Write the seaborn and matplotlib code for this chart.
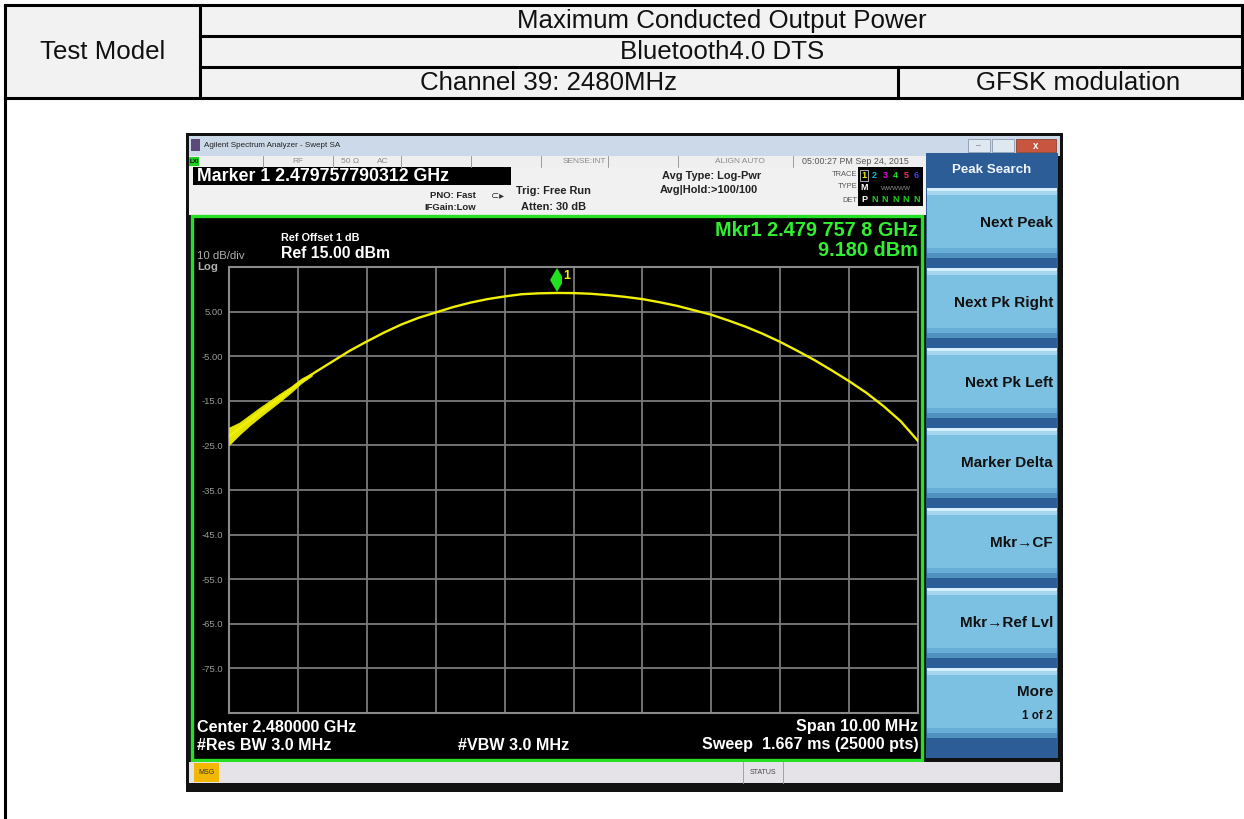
import numpy as np
import pandas as pd
import matplotlib
matplotlib.use("Agg")
import matplotlib.pyplot as plt
import seaborn as sns
from matplotlib.patches import Rectangle
from matplotlib.lines import Line2D
import matplotlib.transforms as mtransforms

# ---------------- data ----------------
center_ghz = 2.480000
span_mhz = 10.0
ref_level = 15.0
db_per_div = 10.0

freq_offset_mhz = [-5.0, -4.75, -4.5, -4.25, -4.0, -3.75, -3.5, -3.25, -3.0, -2.75,
                   -2.5, -2.25, -2.0, -1.75, -1.5, -1.25, -1.0, -0.75, -0.5, -0.24,
                   0.0, 0.25, 0.5, 0.75, 1.0, 1.25, 1.5, 1.75, 2.0, 2.25,
                   2.5, 2.75, 3.0, 3.25, 3.5, 3.75, 4.0, 4.25, 4.5, 4.75, 5.0]
level_dbm = [-23.0, -20.0, -17.0, -14.3, -11.2, -8.6, -6.2, -3.8, -1.7, 0.3,
             2.1, 3.6, 4.8, 6.0, 7.0, 7.8, 8.4, 8.9, 9.1, 9.18,
             9.15, 9.0, 8.7, 8.3, 7.8, 7.1, 6.3, 5.3, 4.3, 3.0,
             1.6, 0.0, -1.8, -3.8, -5.9, -8.2, -10.6, -13.2, -16.2, -19.6, -24.0]

# noisy envelope of the trace near the left edge
noise_offset_mhz = [-5.0, -4.85, -4.7, -4.55, -4.4, -4.25, -4.1, -3.95, -3.8]
noise_hi_dbm = [-21.0, -19.9, -18.2, -16.5, -14.9, -13.3, -11.8, -10.0, -8.8]
noise_lo_dbm = [-24.9, -22.6, -20.5, -18.6, -16.8, -15.0, -13.1, -11.0, -9.4]

marker_freq_ghz = 2.4797578
marker_level_dbm = 9.180

ytick_labels = ["5.00", "-5.00", "-15.0", "-25.0", "-35.0", "-45.0", "-55.0", "-65.0", "-75.0"]

header_title = "Maximum Conducted Output Power"
header_mode = "Bluetooth4.0 DTS"
header_channel = "Channel 39: 2480MHz"
header_mod = "GFSK modulation"
header_left = "Test Model"

softkeys = ["Next Peak", "Next Pk Right", "Next Pk Left", "Marker Delta",
            "Mkr\u2192CF", "Mkr\u2192Ref Lvl", "More"]

# ---------------- setup ----------------
W, H = 1244, 819
sns.set_style("white")
plt.rcParams['font.family'] = ['Liberation Sans', 'DejaVu Sans']

fig = plt.figure(figsize=(W / 100, H / 100), dpi=100)
fig.patch.set_facecolor('white')


def fx(x):
    return x / W


def fy(y):
    return 1 - y / H


def rect(x0, y0, x1, y1, **kw):
    kw.setdefault('lw', 0)
    r = Rectangle((fx(x0), fy(y1)), (x1 - x0) / W, (y1 - y0) / H,
                  transform=fig.transFigure, **kw)
    fig.add_artist(r)
    return r


def line(x0, y0, x1, y1, **kw):
    fig.add_artist(Line2D([fx(x0), fx(x1)], [fy(y0), fy(y1)],
                          transform=fig.transFigure, **kw))


def text(x, y, s, **kw):
    kw.setdefault('va', 'center')
    return fig.text(fx(x), fy(y), s, **kw)


# ---------------- table ----------------
rect(5, 5, 1242, 98, fc='#f2f2f2')
tl = dict(color='black', lw=2.2, solid_capstyle='projecting')
line(5, 5, 1242, 5, **tl)
line(200, 36, 1242, 36, **tl)
line(200, 67, 1242, 67, **tl)
line(5, 98, 1242, 98, **tl)
line(5, 5, 5, 819, **tl)
line(200, 5, 200, 98, **tl)
line(898, 67, 898, 98, **tl)
line(1242, 5, 1242, 98, **tl)
tkw = dict(fontsize=18.6, color='#111111', ha='center')
text(103, 52, header_left, **tkw)
text(722, 21, header_title, **tkw)
text(722, 52, header_mode, **tkw)
text(549, 83, header_channel, **tkw)
text(1078, 83, header_mod, **tkw)

# ---------------- analyzer window ----------------
rect(186, 133, 1063, 792, fc='#121212')
rect(189, 136, 1060, 156, fc='#cbd9e8')
rect(191, 139, 200, 151, fc='#5a4a7a')
text(204, 145.5, "Agilent Spectrum Analyzer - Swept SA", fontsize=5.8, color='#222222')
rect(968, 139, 990, 152, fc='#dfe7f0', ec='#8a9ab0', lw=0.6)
rect(992, 139, 1014, 152, fc='#dfe7f0', ec='#8a9ab0', lw=0.6)
rect(1016, 139, 1056, 152, fc='#c8553f', ec='#8a4030', lw=0.6)
text(976, 146, "\u2013", fontsize=6, color='#555555')
text(1036, 146, "x", fontsize=7, color='white', ha='center', weight='bold')

# status row
rect(189, 156, 926, 167, fc='#efefef')
for xs in [263, 333, 401, 471, 541, 608, 678, 793]:
    line(xs, 156, xs, 167, color='#9a9a9a', lw=0.7)
rect(189, 157, 199, 166, fc='#20d020')
text(194, 161.5, "LXI", fontsize=4.5, color='black', ha='center', weight='bold')
skw = dict(fontsize=6.0, color='#8a8a8a')
text(298, 161.5, "RF", ha='center', **skw)
text(350, 161.5, "50 \u03a9", ha='center', **skw)
text(383, 161.5, "AC", ha='center', **skw)
text(584, 161.5, "SENSE:INT", ha='center', **skw)
text(740, 161.5, "ALIGN AUTO", ha='center', **skw)
text(855, 161.5, "05:00:27 PM Sep 24, 2015", ha='center', fontsize=6.4, color='#555555')

# info area
rect(189, 167, 926, 215, fc='#f1f1f1')
rect(193, 167, 511, 185, fc='black')
text(197, 176.5, "Marker 1 2.479757790312 GHz", fontsize=12.8, color='white', weight='bold')
ikw = dict(fontsize=6.8, color='#222222', weight='bold')
text(476, 195, "PNO: Fast", ha='right', **ikw)
text(476, 207, "IFGain:Low", ha='right', **ikw)
text(498, 196, "\u2282\u25b8", fontsize=7, color='#333333', ha='center')
jkw = dict(fontsize=7.9, color='#222222', weight='bold')
text(516, 191, "Trig: Free Run", **jkw)
text(521, 207, "Atten: 30 dB", **jkw)
text(712, 176, "Avg Type: Log-Pwr", ha='center', **jkw)
text(709, 190, "Avg|Hold:>100/100", ha='center', **jkw)
text(857, 175, "TRACE", ha='right', fontsize=5.4, color='#555555')
text(857, 187, "TYPE", ha='right', fontsize=5.4, color='#555555')
text(857, 200, "DET", ha='right', fontsize=5.4, color='#555555')
rect(858, 167, 923, 206, fc='black')
rect(860, 170, 868, 181, fc='none', ec='#c8c8c8', lw=0.6)
trace_cols = ['#f0f000', '#00c8c8', '#e000e0', '#20e020', '#ff3070', '#4040ff']
for i, c in enumerate(trace_cols):
    text(864 + i * 10.5, 175.5, str(i + 1), fontsize=6.5, color=c, ha='center', weight='bold')
text(864, 188, "M", fontsize=6.5, color='white', ha='center', weight='bold')
text(896, 188, "WWWWW", fontsize=4.6, color='#909090', ha='center')
text(864, 200, "P", fontsize=6.5, color='white', ha='center', weight='bold')
for i in range(5):
    text(874.5 + i * 10.5, 200, "N", fontsize=6.5, color='#20d020', ha='center', weight='bold')

# plot panel with green frame
rect(192, 216, 922, 760, fc='black', ec='#25e025', lw=2.4)
text(281, 238, "Ref Offset 1 dB", fontsize=7.8, color='white', weight='bold')
text(281, 254, "Ref 15.00 dBm", fontsize=11.4, color='white', weight='bold')
text(197, 256, "10 dB/div", fontsize=8.2, color='#b0b0b0')
text(197, 267, "Log", fontsize=8.2, color='#b0b0b0', weight='bold')
text(918, 231, "Mkr1 2.479 757 8 GHz", fontsize=14.3, color='#30f030', weight='bold', ha='right')
text(918, 250, "9.180 dBm", fontsize=14.3, color='#30f030', weight='bold', ha='right')
bkw = dict(fontsize=11.6, color='white', weight='bold')
text(197, 727, "Center 2.480000 GHz", **bkw)
text(197, 745, "#Res BW 3.0 MHz", **bkw)
text(458, 745, "#VBW 3.0 MHz", **bkw)
text(918, 727, "Span 10.00 MHz", ha='right', **bkw)
text(919, 745, "Sweep  1.667 ms (25000 pts)", ha='right', **bkw)

# msg bar
rect(189, 762, 1060, 783, fc='#e6e3e8')
rect(194, 763, 219, 782, fc='#f2b800')
text(206.5, 772.5, "MSG", fontsize=5, color='#333333', ha='center')
line(743, 762, 743, 783, color='#a0a0a0', lw=0.7)
line(783, 762, 783, 783, color='#a0a0a0', lw=0.7)
text(763, 772.5, "STATUS", fontsize=5, color='#444444', ha='center')

# softkey panel
rect(926, 153, 1058, 758, fc='#2d5d96')
text(992, 170, "Peak Search", fontsize=9.6, color='#f0f4ff', weight='bold', ha='center')
for i, lab in enumerate(softkeys):
    top = 188 + 80 * i
    bot = top + 70
    rect(927, top, 1057, bot, fc='#7cc0e2')
    rect(927, top, 1057, top + 3, fc='#d6eef9')
    rect(927, top + 3, 1057, top + 7, fc='#a6d6ee')
    rect(927, bot - 10, 1057, bot - 5, fc='#66aed6')
    rect(927, bot - 5, 1057, bot, fc='#4f92c0')
    if lab == "More":
        text(1053, top + 24, lab, fontsize=11, color='#111111', weight='bold', ha='right')
        text(1053, top + 48, "1 of 2", fontsize=8.4, color='#111111', weight='bold', ha='right')
    else:
        text(1053, top + 35, lab, fontsize=11, color='#111111', weight='bold', ha='right')

# ---------------- spectrum axes ----------------
ax = fig.add_axes([fx(229), fy(713), (918 - 229) / W, (713 - 267) / H])
ax.set_zorder(5)
ax.set_facecolor('black')
df = pd.DataFrame({"freq": center_ghz + np.array(freq_offset_mhz) / 1000.0,
                   "level": level_dbm})
noise_f = center_ghz + np.array(noise_offset_mhz) / 1000.0
ax.fill_between(noise_f, noise_lo_dbm, noise_hi_dbm, color='#e4e400', lw=0.6,
                edgecolor='#e4e400', zorder=3)
sns.lineplot(data=df, x="freq", y="level", ax=ax, color='#f0f000', lw=1.7, sort=True, zorder=4)

fmin = center_ghz - span_mhz / 2000.0
fmax = center_ghz + span_mhz / 2000.0
ymin = ref_level - 10 * db_per_div
ax.set_xlim(fmin, fmax)
ax.set_ylim(ymin, ref_level)
ax.set_xticks(np.linspace(fmin, fmax, 11))
ax.set_yticks(np.arange(ymin, ref_level + 0.1, db_per_div))
ax.set_xticklabels([])
ylabs = [''] + list(reversed(ytick_labels)) + ['']
ax.set_yticklabels(ylabs)
ax.tick_params(axis='both', length=0, colors='#9a9a9a', labelsize=6.8, pad=4)
ax.grid(True, color='#7a7a7a', lw=1.3)
ax.set_axisbelow(True)
for s in ax.spines.values():
    s.set_color('#8a8a8a')
    s.set_linewidth(1.5)
ax.set_xlabel('')
ax.set_ylabel('')

# marker
mtrans = mtransforms.offset_copy(ax.transData, fig=fig, x=0, y=9, units='points')
ax.plot([marker_freq_ghz], [marker_level_dbm], marker='d', color='#20e020',
        ms=12, mew=0, transform=mtrans, clip_on=False, zorder=6)
ltrans = mtransforms.offset_copy(ax.transData, fig=fig, x=7.5, y=12, units='points')
ax.text(marker_freq_ghz, marker_level_dbm, "1", color='#f0f000', fontsize=9,
        weight='bold', transform=ltrans, va='center', ha='center',
        bbox=dict(fc='black', ec='none', pad=1.5), zorder=7, clip_on=False)

fig.savefig("out.png", dpi=100, facecolor='white')
